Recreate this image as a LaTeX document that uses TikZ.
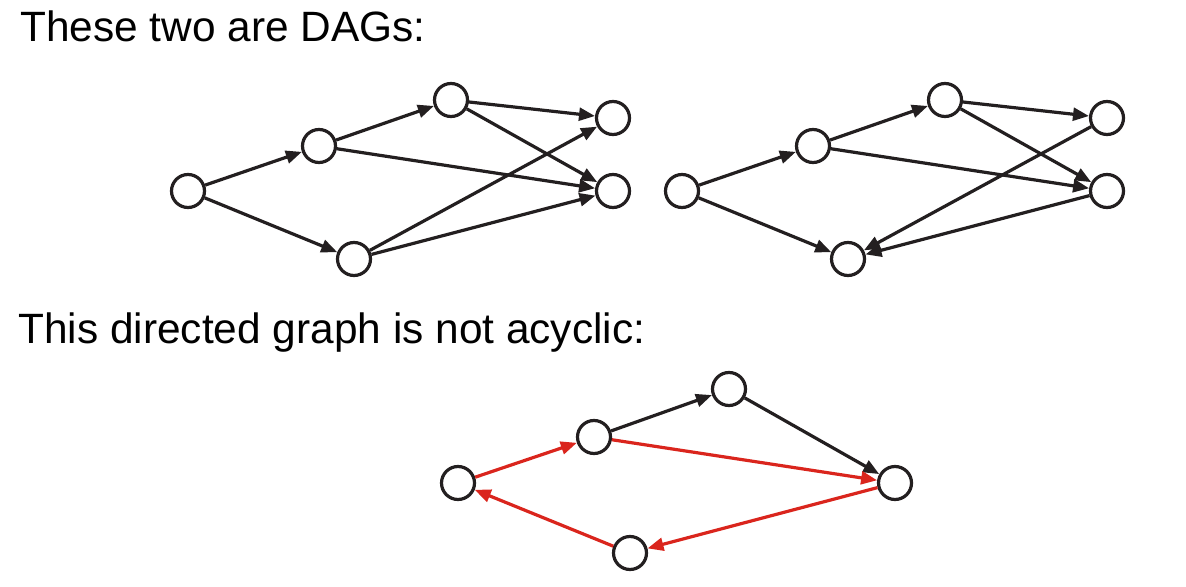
\documentclass[tikz,border=0pt]{standalone}
\usepackage{fontspec}
\setmainfont{Liberation Sans}
\usetikzlibrary{arrows.meta}
\definecolor{ink}{HTML}{231F20}
\definecolor{cyc}{HTML}{DA251D}
\begin{document}
\begin{tikzpicture}[x=0.5pt,y=-0.5pt,
  vtx/.style={circle,draw=ink,line width=1.6pt,minimum size=16.5pt,inner sep=0pt,fill=white},
  edge/.style={draw=ink,line width=1.6pt,-{Triangle[length=8pt,width=6.4pt]}},
  redge/.style={edge,draw=cyc,-{Triangle[length=8pt,width=6.4pt,color=cyc]}},
  lbl/.style={anchor=base west,inner sep=0pt,font=\fontsize{21.2pt}{25pt}\selectfont}]
\useasboundingbox (0,0) rectangle (1186,587);
\node[lbl] (t1) at (20,42) {These two are DAGs:};
\node[lbl] (t2) at (18,343) {This directed graph is not acyclic:};
% graph 1
\node[vtx] (a1) at (188,191) {};
\node[vtx] (b1) at (319,146) {};
\node[vtx] (c1) at (451,100) {};
\node[vtx] (d1) at (613,118) {};
\node[vtx] (e1) at (613,191) {};
\node[vtx] (f1) at (354,259) {};
\draw[edge] (a1) -- (b1);
\draw[edge] (b1) -- (c1);
\draw[edge] (c1) -- (d1);
\draw[edge] (c1) -- (e1);
\draw[edge] (b1) -- (e1);
\draw[edge] (a1) -- (f1);
\draw[edge] (f1) -- (d1);
\draw[edge] (f1) -- (e1);
% graph 2
\node[vtx] (a2) at (682,191) {};
\node[vtx] (b2) at (813,146) {};
\node[vtx] (c2) at (945,100) {};
\node[vtx] (d2) at (1107,118) {};
\node[vtx] (e2) at (1107,191) {};
\node[vtx] (f2) at (848,259) {};
\draw[edge] (a2) -- (b2);
\draw[edge] (b2) -- (c2);
\draw[edge] (c2) -- (d2);
\draw[edge] (c2) -- (e2);
\draw[edge] (b2) -- (e2);
\draw[edge] (a2) -- (f2);
\draw[edge] (d2) -- (f2);
\draw[edge] (e2) -- (f2);
% graph 3
\node[vtx] (a3) at (458,483) {};
\node[vtx] (b3) at (594,437) {};
\node[vtx] (c3) at (729,389) {};
\node[vtx] (d3) at (895,483) {};
\node[vtx] (e3) at (630,553) {};
\draw[redge] (a3) -- (b3);
\draw[edge] (b3) -- (c3);
\draw[edge] (c3) -- (d3);
\draw[redge] (b3) -- (d3);
\draw[redge] (d3) -- (e3);
\draw[redge] (e3) -- (a3);
\end{tikzpicture}
\end{document}
